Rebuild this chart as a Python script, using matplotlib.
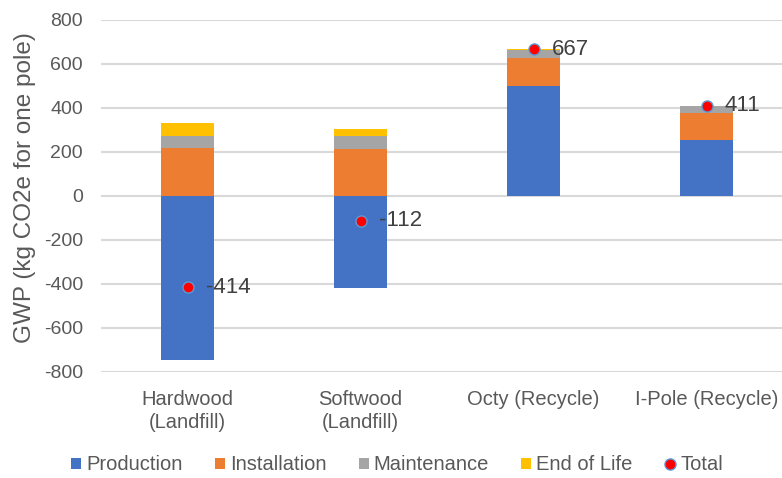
import matplotlib.pyplot as plt
import numpy as np

plt.rcParams['font.family'] = ['Liberation Sans', 'DejaVu Sans']
plt.rcParams['axes.unicode_minus'] = False

categories = ['Hardwood\n(Landfill)', 'Softwood\n(Landfill)', 'Octy (Recycle)', 'I-Pole (Recycle)']
production = [-745, -418, 500, 255]
installation = [218, 212, 127, 122]
maintenance = [55, 60, 37, 32]
end_of_life = [58, 34, 3, 2]
total = [-414, -112, 667, 411]
yticks = [-800, -600, -400, -200, 0, 200, 400, 600, 800]

colors = ['#4472c4', '#ed7d31', '#a5a5a5', '#ffc000']
names = ['Production', 'Installation', 'Maintenance', 'End of Life']

fig = plt.figure(figsize=(7.82, 4.78), dpi=100)
# axes spans 4 categories of ~173 px, right side is cut off by the figure edge
ax = fig.add_axes([101/782, 106/478, 692/782, 352/478])
x = np.arange(len(categories))
w = 0.31

# negative production stacks down, others stack up from 0
pos_base = np.zeros(len(categories))
handles = []
for vals, c, n in zip([production, installation, maintenance, end_of_life], colors, names):
    vals = np.array(vals, dtype=float)
    bottoms = np.where(vals >= 0, pos_base, 0)
    handles.append(ax.bar(x, vals, w, bottom=bottoms, color=c, label=n, zorder=2))
    pos_base = pos_base + np.where(vals >= 0, vals, 0)

tot, = ax.plot(x, total, 'o', color='#ff0000', markeredgecolor='#5b9bd5', markeredgewidth=1,
               markersize=8, label='Total', zorder=3, linestyle='none')
handles.append(tot)
for xi, t in zip(x, total):
    ax.annotate(str(t), (xi, t), xytext=(13, 0), textcoords='offset points',
                va='center', ha='left', fontsize=16, color='#404040', zorder=4)

ax.set_xlim(-0.5, 3.5)
ax.set_ylim(-800, 800)
ax.set_yticks(yticks)
ax.set_xticks(x)
ax.set_xticklabels(categories, fontsize=14.5, color='#595959', linespacing=1.25)
ax.tick_params(axis='y', labelsize=14, labelcolor='#595959', length=0, pad=13)
ax.tick_params(axis='x', length=0, pad=13)
ax.yaxis.grid(True, color='#d9d9d9', linewidth=1.5, zorder=0)
ax.set_axisbelow(True)
for s in ax.spines.values():
    s.set_visible(False)
ax.set_ylabel('GWP (kg CO2e for one pole)', fontsize=17.5, color='#595959')
ax.yaxis.set_label_coords(-0.094, 0.523)

fig.legend(handles=handles, loc='center', bbox_to_anchor=(397/782, 1 - 465/478), ncol=5, frameon=False,
           fontsize=14.5, labelcolor='#595959', handlelength=0.5, handleheight=0.5,
           handletextpad=0.25, columnspacing=1.6)

fig.savefig('out.png', dpi=100)
